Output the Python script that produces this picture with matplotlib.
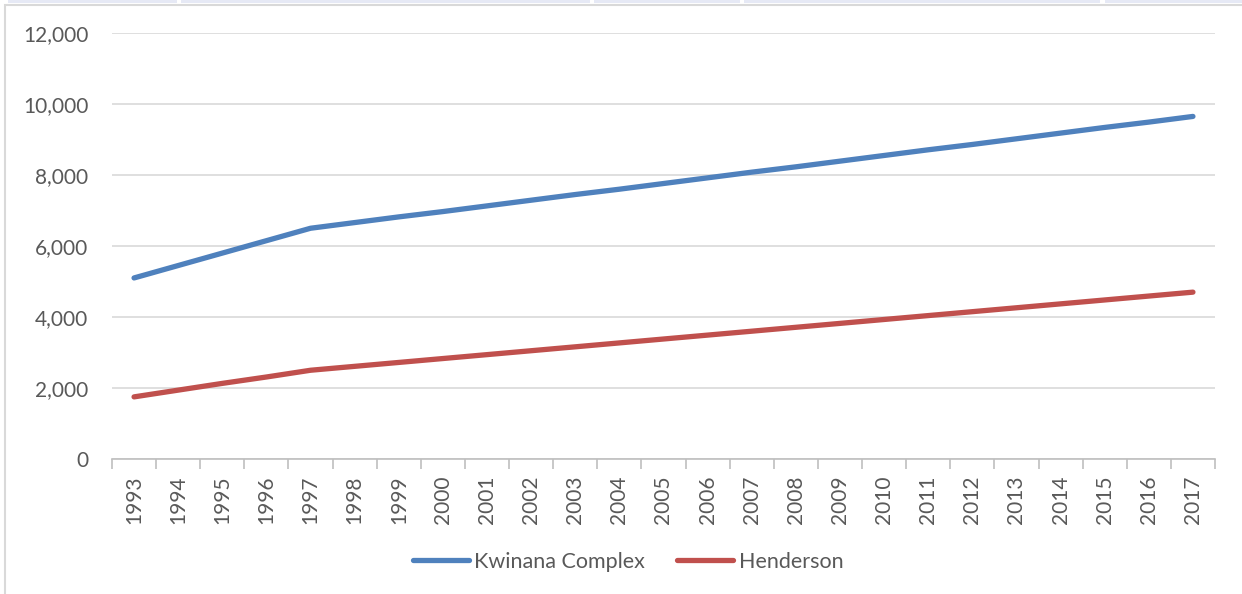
import matplotlib
matplotlib.use("Agg")
import matplotlib.pyplot as plt
from matplotlib.patches import Rectangle
import numpy as np

years = [str(y) for y in range(1993, 2018)]
kwinana = [5100, 5450, 5800, 6150, 6500, 6660, 6820, 6970, 7130, 7290, 7450, 7600,
           7760, 7920, 8080, 8230, 8390, 8550, 8710, 8860, 9020, 9180, 9340, 9490, 9650]
henderson = [1750, 1940, 2130, 2310, 2500, 2610, 2720, 2830, 2940, 3050, 3160, 3270,
             3380, 3490, 3600, 3710, 3820, 3930, 4040, 4150, 4260, 4370, 4480, 4590, 4700]
yticks = [0, 2000, 4000, 6000, 8000, 10000, 12000]

plt.rcParams['font.family'] = ['Lato', 'DejaVu Sans']
txt = '#595959'
W, H = 1242, 594

fig = plt.figure(figsize=(W/100, H/100), dpi=100)
fig.patch.set_facecolor('white')
# chart area border
fig.add_artist(Rectangle((4.5/W, -0.05), 1.1, 1 - 4.5/H + 0.05, transform=fig.transFigure,
                         fill=False, edgecolor='#D9D9D9', linewidth=1.5))
# top strip segments (screenshot artefact)
for x0, x1 in [(8, 177), (181, 590), (594, 740), (744, 1100), (1105, 1242)]:
    fig.add_artist(Rectangle((x0/W, 1 - 2.5/H), (x1 - x0)/W, 2.5/H, transform=fig.transFigure,
                             facecolor='#E6E9F5', edgecolor='none'))

ax = fig.add_axes([112/W, 1 - 459/H, (1215 - 112)/W, (459 - 33)/H])

x = np.arange(len(years))
ax.plot(x, kwinana, color='#4F81BD', linewidth=3.8, solid_capstyle='round', label='Kwinana Complex', zorder=3)
ax.plot(x, henderson, color='#C0504D', linewidth=3.8, solid_capstyle='round', label='Henderson', zorder=3)

ax.set_xlim(-0.5, len(years) - 0.5)
ax.set_ylim(0, 12000)
ax.set_yticks(yticks)
ax.set_yticklabels([f"{v:,}" for v in yticks], color=txt, fontsize=15)
ax.yaxis.grid(True, color='#D9D9D9', linewidth=1.2)
ax.set_axisbelow(True)
ax.tick_params(axis='y', length=0, pad=17)

ax.set_xticks(x)
ax.set_xticklabels(years, rotation=90, color=txt, fontsize=15)
ax.set_xticks(np.arange(-0.5, len(years)), minor=True)
ax.tick_params(axis='x', which='major', length=0, pad=12)
ax.tick_params(axis='x', which='minor', length=7, color='#BFBFBF', width=1.2)

for s in ['top', 'right', 'left']:
    ax.spines[s].set_visible(False)
ax.spines['bottom'].set_color('#BFBFBF')
ax.spines['bottom'].set_linewidth(1.2)

leg = fig.legend(loc='center', bbox_to_anchor=(628/W, 1 - 562/H), ncol=2, frameon=False,
                 fontsize=15.5, handlelength=2.6, handletextpad=0.25, columnspacing=1.5)
for t in leg.get_texts():
    t.set_color(txt)

fig.savefig('out.png', dpi=100, facecolor='white')
